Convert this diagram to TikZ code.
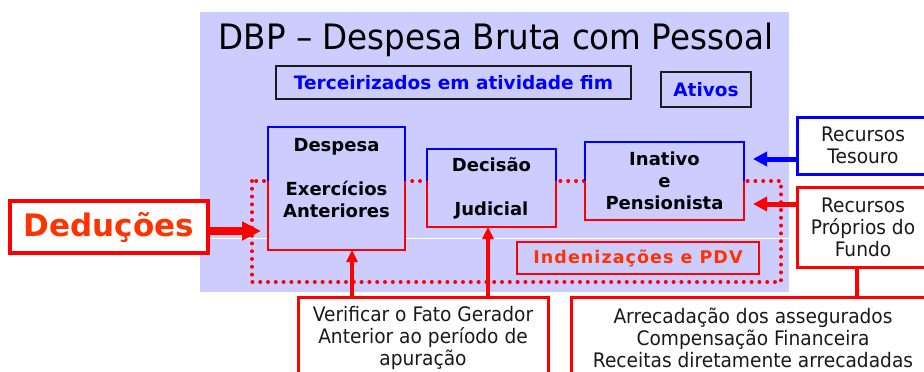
\documentclass[tikz,border=0pt]{standalone}
\usepackage{fontspec}
\setmainfont{DejaVu Sans}
\newfontfamily\plainface[FakeStretch=0.93]{DejaVu Sans}
\newfontfamily\boldface{DejaVu Sans}
\newfontfamily\spacedface[LetterSpace=6]{DejaVu Sans}
\usetikzlibrary{arrows.meta, calc}
\definecolor{Lavender}{HTML}{CCCCFF}
\definecolor{PureRed} {HTML}{FF0000}
\definecolor{PureBlu} {HTML}{0000FF}
\definecolor{Flame}   {HTML}{FF3300}
\definecolor{DarkGry} {HTML}{1A1A1A}

\begin{document}
\begin{tikzpicture}[
  x=1pt, y=-1pt,
  every node/.style={align=center, inner sep=0pt},
  hdr/.style    = {font=\plainface\fontsize{35}{40}\selectfont, text=black},
  tag/.style    = {draw=DarkGry, fill=Lavender, line width=1.3pt, outer sep=0pt,
                   text=PureBlu, font=\boldface\bfseries\fontsize{18.5}{21}\selectfont},
  item/.style   = {draw=PureBlu, fill=Lavender, line width=1.3pt, outer sep=0pt,
                   text=black, font=\boldface\bfseries\fontsize{18}{22}\selectfont},
  cut/.style    = {draw=PureRed, fill=Lavender, line width=1.5pt, outer sep=0pt,
                   text=Flame, font=\spacedface\bfseries\fontsize{17.5}{21}\selectfont},
  src/.style    = {fill=white, line width=3pt, outer sep=0pt, text=DarkGry,
                   font=\plainface\fontsize{20}{22}\selectfont},
  dotframe/.style = {PureRed, line width=4pt, line cap=round,
                   dash pattern=on 0pt off 7.8pt},
  fatarrow/.style = {PureRed, line width=8pt, -{Triangle[length=19pt, width=18pt]}},
  bluarrow/.style = {PureBlu, line width=5pt, -{Triangle[length=14pt, width=14pt]}},
  redarrow/.style = {PureRed, line width=5pt, -{Triangle[length=14pt, width=14pt]}},
  uparrow/.style  = {PureRed, line width=4pt, -{Triangle[length=12pt, width=11pt]}},
  link/.style     = {PureRed, line width=4pt},
]
\useasboundingbox (0,0) rectangle (924,372);
\clip (0,0) rectangle (924,372);

% ── Panel ─────────────────────────────────────────────────────────────────────
\fill[Lavender] (200,12) rectangle (789,292);
\draw[white, line width=1pt] (200,238) -- (789,238);
\draw[dotframe] (252,181) rectangle (781,282);
\coordinate (cut) at (0,181);

\node[hdr] (title) at (496,40) {DBP – Despesa Bruta com Pessoal};
\node[tag, minimum width=355, minimum height=33] (terc) at (453.5,82.5)
  {Terceirizados em atividade fim};
\node[tag, minimum width=90, minimum height=35] (ativ) at (706,89.5) {Ativos};

% ── Expense items ─────────────────────────────────────────────────────────────
\node[item, minimum width=137, minimum height=123] (desp) at (336.5,188.5)
  {Despesa\\~\\Exercícios\\Anteriores\\~};
\node[item, minimum width=129, minimum height=78]  (deci) at (491.5,188)
  {Decisão\\~\\Judicial};
\node[item, minimum width=159, minimum height=78]  (inat) at (664.5,181)
  {Inativo\\e\\Pensionista};
\foreach \b in {desp, deci, inat}{
  \draw[PureRed, line width=1.3pt]
    (\b.west |- cut) -- (\b.south west) -- (\b.south east) -- (\b.east |- cut);
}
\node[cut, minimum width=242, minimum height=32] (inde) at (638,258)
  {Indenizações e PDV};

% ── Outer boxes ───────────────────────────────────────────────────────────────
\node[draw=PureRed, fill=white, line width=3.5pt, outer sep=0pt, text=Flame,
      font=\boldface\bfseries\fontsize{31}{34}\selectfont,
      minimum width=198, minimum height=52] (dedu) at (109,227) {Deduções};
\node[src, draw=PureBlu, minimum width=132, minimum height=57] (tesr) at (863,145.5)
  {Recursos\\Tesouro};
\node[src, draw=PureRed, minimum width=132, minimum height=80] (prop) at (863,227)
  {Recursos\\Próprios do\\Fundo};
\node[src, draw=PureRed, minimum width=250, minimum height=82] (verif) at (423,338)
  {Verificar o Fato Gerador\\Anterior ao período de\\apuração};
\node[src, draw=PureRed, minimum width=364, minimum height=82] (arrec) at (753,338)
  {Arrecadação dos assegurados\\Compensação Financeira\\Receitas diretamente arrecadadas};

% ── Arrows ────────────────────────────────────────────────────────────────────
\coordinate (dedtip)  at (261,231);
\coordinate (testip)  at (753,159);
\coordinate (proptip) at (753,204);
\draw[fatarrow] (dedu.east |- dedtip) -- (dedtip);
\draw[bluarrow] (tesr.west |- testip) -- (testip);
\draw[redarrow] (prop.west |- proptip) -- (proptip);

\coordinate (vA) at ([xshift=-71pt]verif.north);
\coordinate (vB) at ([xshift=65pt]verif.north);
\draw[uparrow] (vA) -- (vA |- desp.south);
\draw[uparrow] (vB) -- (vB |- deci.south);

\coordinate (pA) at ([xshift=-6pt]prop.south);
\draw[link] (pA) -- (pA |- arrec.north);

\end{tikzpicture}
\end{document}
